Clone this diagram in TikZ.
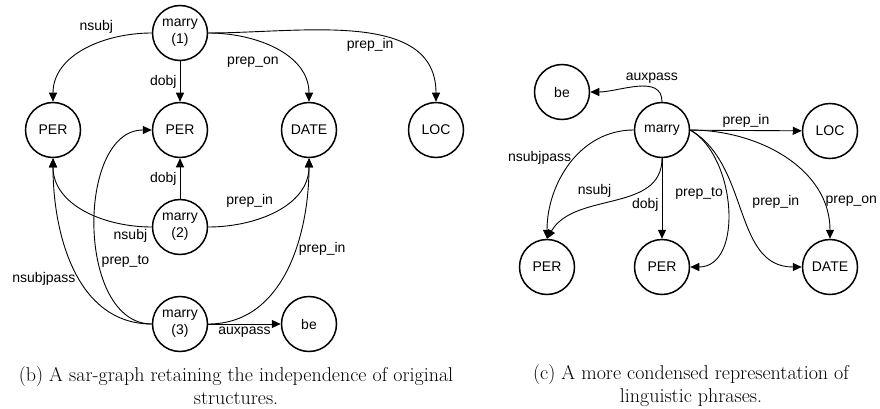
\documentclass[tikz,border=0pt]{standalone}
\usepackage{fontspec}
\newfontfamily\graphfont{Liberation Sans}
\usetikzlibrary{arrows.meta}

\begin{document}
\begin{tikzpicture}[x=1pt, y=-1pt,
    vertex/.style={circle, draw, line width=1.5pt, minimum size=55pt, inner sep=0pt,
      align=center, font=\graphfont\fontsize{14}{17}\selectfont},
    rel/.style={inner sep=3pt, font=\graphfont\fontsize{14}{17}\selectfont},
    dep/.style={-{Triangle[length=9pt,width=8pt]}, line width=0.9pt},
    caption/.style={align=center, font=\fontsize{20}{23}\selectfont}]
    \useasboundingbox (0,0) rectangle (880,409);

    % (b) one sub-graph per sentence
    \node[vertex] (marry1) at (180,33) {marry\\(1)};
    \node[vertex] (marry2) at (180,227) {marry\\(2)};
    \node[vertex] (marry3) at (180,324) {marry\\(3)};
    \node[vertex] (perL) at (53,130) {PER};
    \node[vertex] (perM) at (180,130) {PER};
    \node[vertex] (dateB) at (309,130) {DATE};
    \node[vertex] (locB) at (436,130) {LOC};
    \node[vertex] (beB) at (309,324) {be};

    \draw[dep] (marry1.west) to[out=180, in=90] node[rel, pos=0.25, above left] (r1) {nsubj} (perL.north);
    \draw[dep] (marry1) -- node[rel, left] (r2) {dobj} (perM);
    \draw[dep] (marry1.east) to[out=0, in=90] node[rel, pos=0.55, below left] (r3) {prep\_on} (dateB.north);
    \draw[dep] (marry1.east) to[out=0, in=90] node[rel, pos=0.55, below] (r4) {prep\_in} (locB.north);

    \draw[dep] (marry2) -- node[rel, left] (r5) {dobj} (perM);
    \draw[dep] (marry2.west) to[out=180, in=-90] node[rel, pos=0.15, below] (r6) {nsubj} (perL.south);
    \draw[dep] (marry2.east) to[out=0, in=-90] node[rel, pos=0.5, above left] (r7) {prep\_in} (dateB.south);

    \draw[dep] (marry3.west) to[out=180, in=-90] node[rel, pos=0.45, left] (r8) {nsubjpass} (perL.south);
    \draw[dep] (marry3.west) to[out=180, in=180] node[rel, pos=0.38, right] (r9) {prep\_to} (perM.west);
    \draw[dep] (marry3.east) to[out=0, in=-90] node[rel, pos=0.6, right] (r10) {prep\_in} (dateB.south);
    \draw[dep] (marry3) -- node[rel, below] (r11) {auxpass} (beB);

    \node[caption] (capB) at (236,386) {(b) A sar-graph retaining the independence of original\\structures.};

    % (c) merged graph
    \node[vertex] (marryC) at (662,130) {marry};
    \node[vertex] (beC) at (562,92) {be};
    \node[vertex] (locC) at (830,131) {LOC};
    \node[vertex] (perC1) at (547,267) {PER};
    \node[vertex] (perC2) at (662,267) {PER};
    \node[vertex] (dateC) at (830,267) {DATE};

    \draw[dep] (marryC.north) to[out=90, in=0] node[rel, pos=0.3, above] (s1) {auxpass} (beC.east);
    \draw[dep] (marryC) -- node[rel, above] (s2) {prep\_in} (locC);
    \draw[dep] (marryC.west) to[out=180, in=90] node[rel, pos=0.45, left] (s3) {nsubjpass} (perC1.north);
    \draw[dep] (marryC.south) to[out=-90, in=60] node[rel, pos=0.5, above left] (s4) {nsubj} (perC1.north);
    \draw[dep] (marryC) -- node[rel, pos=0.58, left] (s5) {dobj} (perC2);
    \draw[dep] (marryC.east) to[out=-30, in=0] node[rel, pos=0.42, left] (s6) {prep\_to} (perC2.east);
    \draw[dep] (marryC.east) to[out=-30, in=180] node[rel, pos=0.45, right, xshift=10pt] (s7) {prep\_in} (dateC.west);
    \draw[dep] (marryC.east) to[out=0, in=90] node[rel, pos=0.8, right] (s8) {prep\_on} (dateC.north);

    \node[caption] (capC) at (691,386) {(c) A more condensed representation of\\linguistic phrases.};
\end{tikzpicture}
\end{document}
